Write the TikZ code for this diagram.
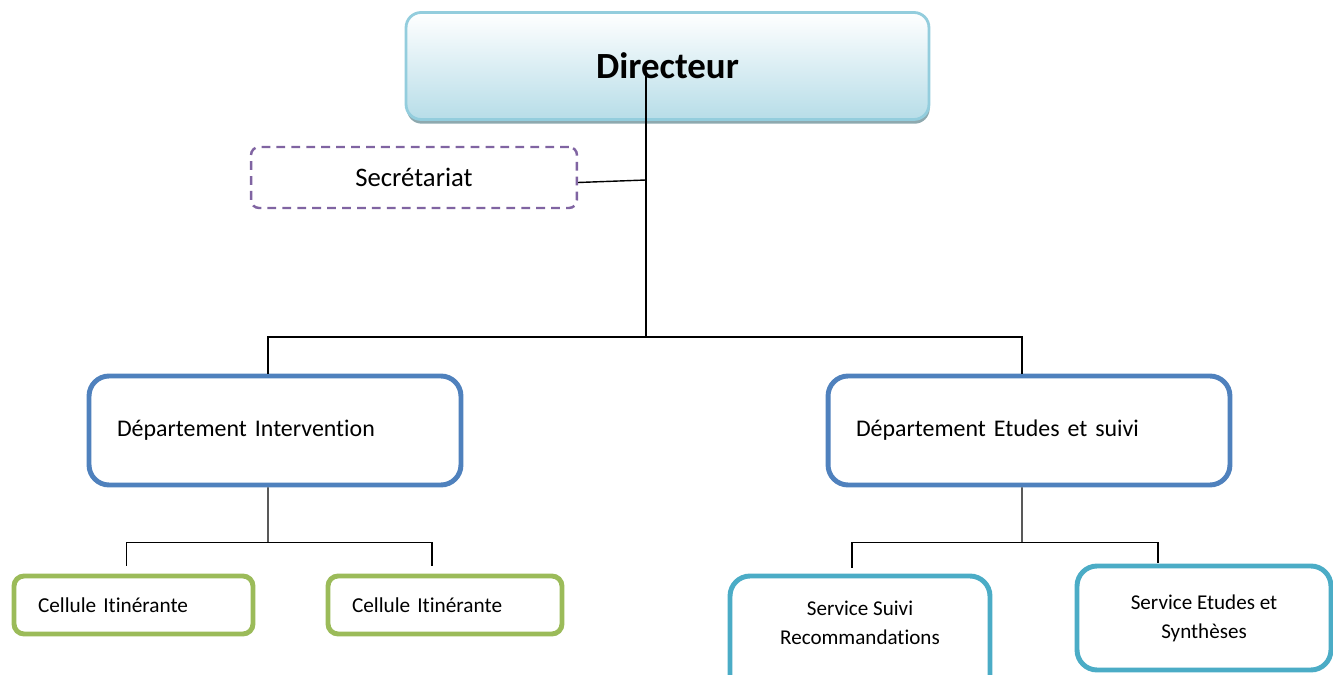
\documentclass[tikz,border=0pt]{standalone}
\usepackage{fontspec}
\setmainfont{Carlito}[Ligatures=NoCommon]
\usetikzlibrary{shadows}
\definecolor{dirline}{HTML}{93CDDD}
\definecolor{dirfill}{HTML}{B7DDE8}
\definecolor{dirshade}{HTML}{8EA9AF}
\definecolor{secline}{HTML}{8064A2}
\definecolor{deptline}{HTML}{4F81BD}
\definecolor{cellline}{HTML}{9BBB59}
\definecolor{servline}{HTML}{4BACC6}
\tikzset{
    dir-box/.style = {draw=dirline, line width=1.6pt, rectangle, rounded corners=0.3cm, top color=white, bottom color=dirfill, minimum width=10.46cm, minimum height=2.14cm, font=\bfseries\fontsize{21}{25}\selectfont, drop shadow={shadow xshift=0.4pt, shadow yshift=-2.4pt, fill=dirshade, opacity=1}},
    sec-box/.style = {draw=secline, line width=1.4pt, dash pattern=on 5pt off 3.5pt, rectangle, rounded corners=0.16cm, fill=white, minimum width=6.52cm, minimum height=1.22cm, font=\fontsize{15.2}{18}\selectfont},
    dept-box/.style = {draw=deptline, line width=2.8pt, rectangle, rounded corners=0.4cm, fill=white, inner xsep=0.56cm, minimum height=2.18cm, align=left, font=\fontsize{13.6}{16}\selectfont},
    cell-box/.style = {draw=cellline, line width=2.8pt, rectangle, rounded corners=0.2cm, fill=white, inner xsep=0.48cm, minimum height=1.16cm, align=left, font=\fontsize{12.1}{14.5}\selectfont},
    serv-box/.style = {draw=servline, line width=2.8pt, rectangle, rounded corners=0.4cm, fill=white, align=center, font=\fontsize{12}{16.4}\selectfont},
    link/.style = {draw=black, line width=0.8pt},
}

\begin{document}
\begin{tikzpicture}[x=0.02cm, y=-0.02cm]
\path[use as bounding box] (0,0) rectangle (1333,675);
\clip (0,0) rectangle (1333,675);

% top of the chart
\node [dir-box] (dir) at (667.5,66) {Directeur};
\node [sec-box] (secr) at (414,177.5) {Secrétariat};

% departments
\node [dept-box, text width=6.32cm] (interv) at (275,430.5) {Département Intervention};
\node [dept-box, text width=6.92cm] (etudes) at (1029,430.5) {Département Etudes et suivi};

% cells and services
\node [cell-box, text width=3.82cm] (cellA) at (133.5,605) {Cellule Itinérante};
\node [cell-box, text width=3.72cm] (cellB) at (445,605) {Cellule Itinérante};
\node [serv-box, minimum width=5.2cm, minimum height=2.44cm] (suivi) at (860,637) {Service Suivi\\Recommandations\\\mbox{}};
\node [serv-box, minimum width=5.08cm, minimum height=2.08cm] (etsyn) at (1204,618) {Service Etudes et\\Synthèses};

% connectors
\coordinate (trunk) at (646,75);
\coordinate (bus) at (646,337);
\coordinate (ibus) at ([shift={(-7,55)}]interv.south);
\coordinate (sbus) at ([shift={(-7,55)}]etudes.south);

\draw [link] (trunk) -- (bus);
\draw [link] ([yshift=-0.1cm]secr.east) -- ([yshift=-0.05cm]secr.east -| trunk);
\draw [link] ([xshift=-0.14cm]interv.north) |- (bus) -| ([xshift=-0.14cm]etudes.north);

\draw [link] ([xshift=-0.14cm]interv.south) -- (ibus);
\draw [link] ([shift={(-7,-8)}]cellA.north) |- (ibus) -| ([shift={(-13,-8)}]cellB.north);

\draw [link] ([xshift=-0.14cm]etudes.south) -- (sbus);
\draw [link] ([shift={(-8,-6)}]suivi.north) |- (sbus) -| ([shift={(-46,-1)}]etsyn.north);
\end{tikzpicture}
\end{document}
